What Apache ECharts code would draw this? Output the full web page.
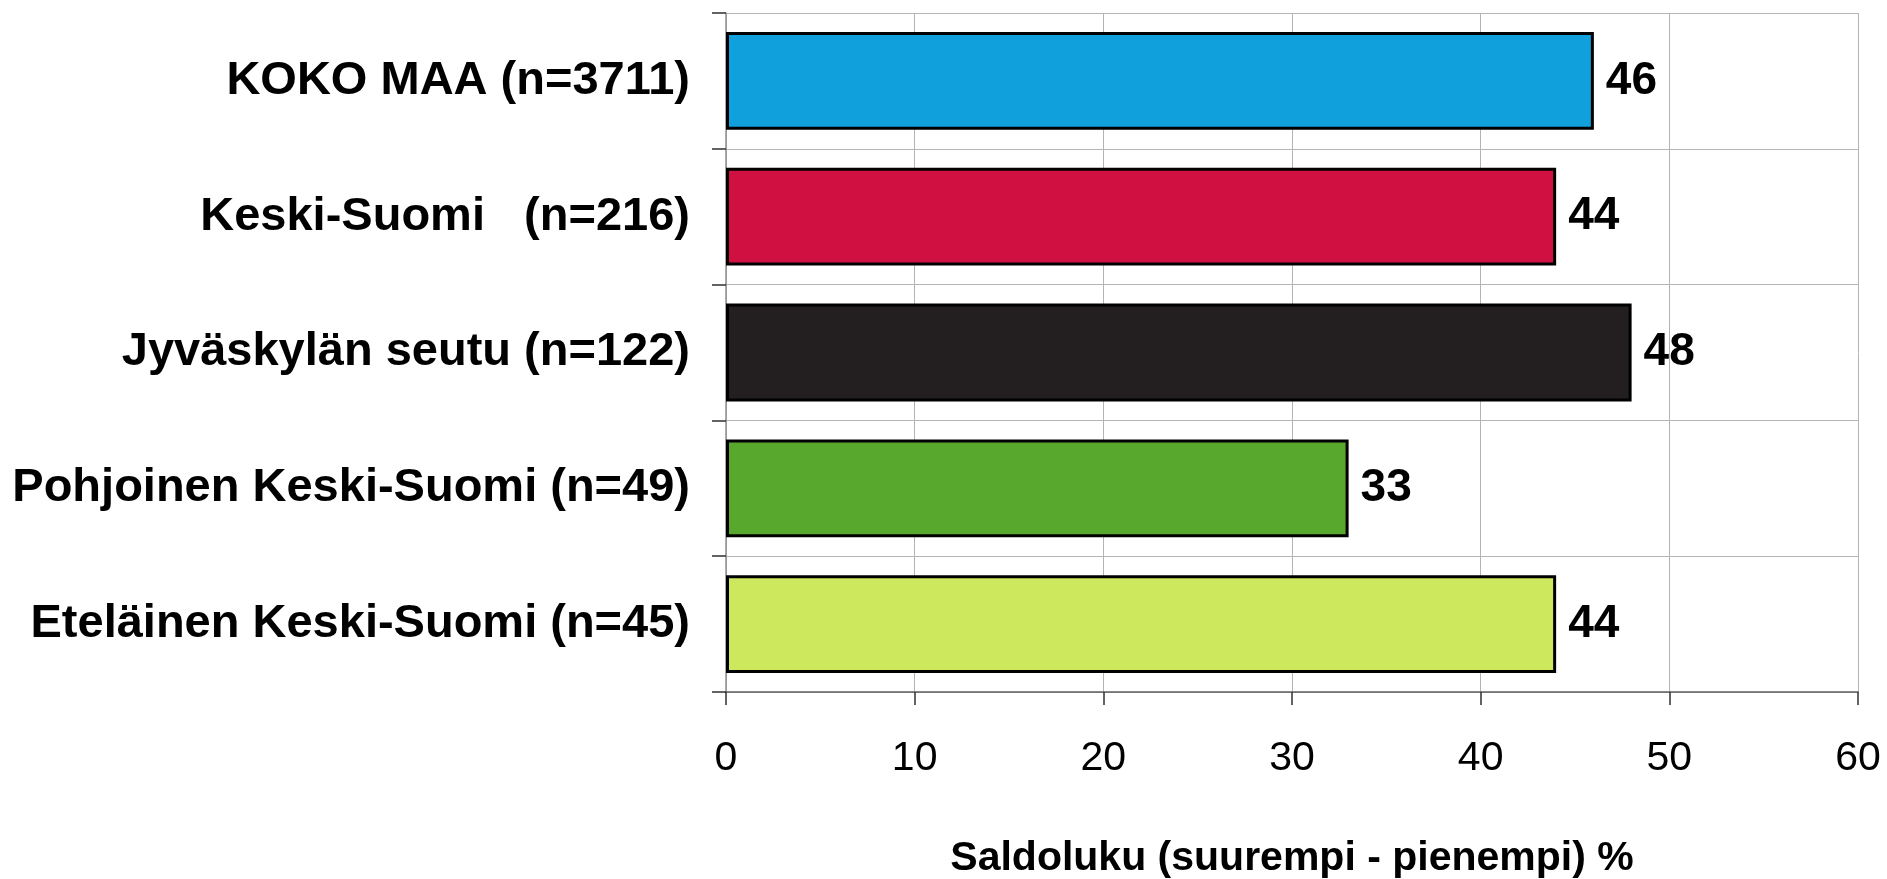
<!DOCTYPE html>
<html>
<head>
<meta charset="utf-8">
<script src="https://cdn.jsdelivr.net/npm/echarts@6/dist/echarts.min.js"></script>
<style>
  html, body { margin: 0; padding: 0; background: #fff; }
  #saldo { width: 1887px; height: 879px; }
</style>
</head>
<body>
<div id="saldo"></div>
<script>
  var regions = ['KOKO MAA (n=3711)', 'Keski-Suomi   (n=216)', 'Jyväskylän seutu (n=122)',
                 'Pohjoinen Keski-Suomi (n=49)', 'Eteläinen Keski-Suomi (n=45)'];
  var saldo = [46, 44, 48, 33, 44];
  var barColors = ['#10a0db', '#cf1040', '#231f20', '#58a82e', '#cde85c'];
  var axisTitle = 'Saldoluku (suurempi - pienempi) %';

  var font = "'Liberation Sans', Arial, sans-serif";
  var chart = echarts.init(document.getElementById('saldo'));

  chart.setOption({
    animation: false,
    grid: { left: 726, right: 29, top: 13, bottom: 187, outerBoundsMode: 'none', containLabel: false },
    xAxis: {
      type: 'value',
      min: 0,
      max: 60,
      interval: 10,
      name: axisTitle,
      nameLocation: 'middle',
      nameGap: 146,
      nameTextStyle: { fontFamily: font, fontSize: 41, fontWeight: 'bold', color: '#000' },
      axisLine: { show: true, lineStyle: { color: '#606060', width: 1.5 } },
      axisTick: { show: true, length: 13, lineStyle: { color: '#303030', width: 1.5 } },
      axisLabel: { margin: 46, fontFamily: font, fontSize: 41, color: '#000' },
      splitLine: { show: true, lineStyle: { color: '#b4b4b4', width: 1 } }
    },
    yAxis: {
      type: 'category',
      data: regions,
      inverse: true,
      axisLine: { show: true, lineStyle: { color: '#909090', width: 1.5 } },
      axisTick: { show: true, length: 14, lineStyle: { color: '#303030', width: 1.5 } },
      axisLabel: { margin: 36, fontFamily: font, fontSize: 47, fontWeight: 'bold', color: '#000' },
      splitLine: { show: true, lineStyle: { color: '#b4b4b4', width: 1 } }
    },
    series: [
      {
        type: 'bar',
        barCategoryGap: '28%',
        data: saldo.map(function(v, i) {
          return { value: v, itemStyle: { color: barColors[i] } };
        }),
        itemStyle: { borderColor: '#000', borderWidth: 3 },
        label: {
          show: true,
          position: 'right',
          distance: 12,
          fontFamily: font,
          fontSize: 46,
          fontWeight: 'bold',
          color: '#000'
        }
      }
    ]
  });
</script>
</body>
</html>
